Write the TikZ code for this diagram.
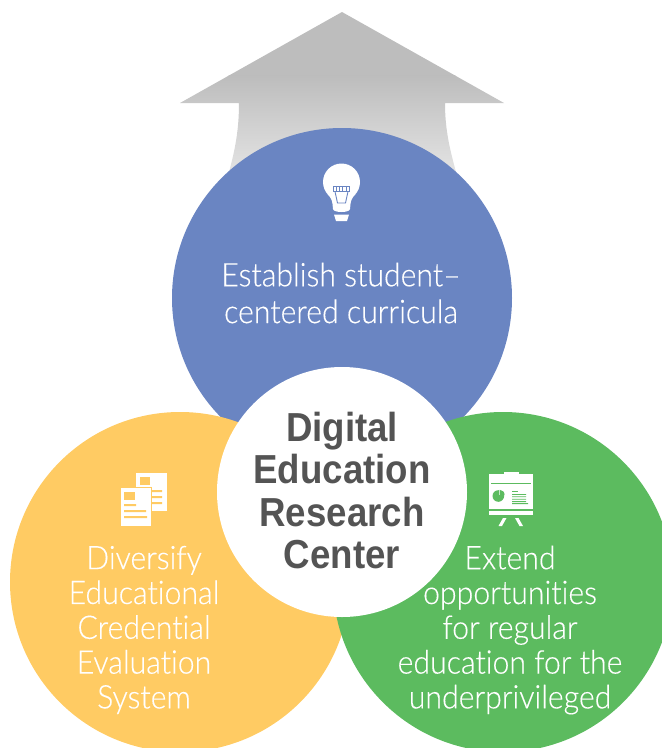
\documentclass[tikz,border=0pt]{standalone}
\usepackage{fontspec}
\setmainfont[Ligatures=NoCommon,FakeStretch=0.93,FakeBold=0.25]{Lato Light}
\newfontfamily\boldf[FakeStretch=0.905]{Liberation Sans Bold}
\definecolor{bluec}{HTML}{6A85C2}
\definecolor{yellowc}{HTML}{FFCB63}
\definecolor{greenc}{HTML}{5CBB5F}
\definecolor{darkt}{HTML}{545454}
\tikzset{
  disc/.style={circle,inner sep=0pt,minimum size=340pt},
  lab/.style={text=white,align=center,font=\fontsize{32.5}{34.8}\selectfont,inner sep=0pt},
  ic/.style={fill=white,draw=none}
}
\begin{document}
\begin{tikzpicture}[x=1pt,y=-1pt]
\useasboundingbox (0,0) rectangle (662,748);
\clip (0,0) rectangle (662,748);
\begin{scope}
\clip (342,12) -- (504,103) -- (445,103) .. controls (445,130) and (450,150) .. (456,172)
  -- (229,172) .. controls (235,150) and (239,130) .. (239,103) -- (180,103) -- cycle;
\fill[black!26] (170,0) rectangle (510,76);
\shade[top color=black!26,bottom color=black!11] (170,75.5) rectangle (510,172);
\end{scope}
\node[disc,fill=bluec] (top) at (342,298) {};
\node[disc,fill=yellowc] (left) at (180,582) {};
\node[disc,fill=greenc] (right) at (503,582) {};
\node[circle,fill=white,inner sep=0pt,minimum size=250pt] (hub) at (342,492) {};
\node[align=center,inner sep=0pt,text=darkt,font=\boldf\fontsize{40.5}{42.2}\selectfont] (hubtext) at (342,490.5) {Digital\\Education\\Research\\Center};
\node[lab] (t1) at (341,293) {Establish student–\\[2pt]centered curricula};
\node[lab] (t2) at (144,630) {Diversify\\Educational\\Credential\\Evaluation\\System};
\node[lab] (t3) at (510,630) {Extend\\opportunities\\for regular\\education for the\\underprivileged};
% bulb
\fill[white] (341.5,182) circle (18.5);
\fill[white] (327.5,194) .. controls (331,198) and (332,200) .. (332.5,204) -- (333,209)
  .. controls (333.5,213) and (349.5,213) .. (350,209) -- (350.5,204)
  .. controls (351,200) and (352,198) .. (355.5,194) -- cycle;
\fill[white] (334,214.5) -- (349,214.5) -- (347,221) -- (336,221) -- cycle;
\draw[bluec,line width=0.9pt] (333.8,186) rectangle (349,191.5);
\draw[bluec,line width=0.9pt] (336.8,186)--(336.8,191.5) (339.8,186)--(339.8,191.5) (342.9,186)--(342.9,191.5) (346,186)--(346,191.5);
\draw[bluec,line width=0.9pt] (335,191.5) -- (337.5,203) -- (345.5,203) -- (348,191.5);
% documents
\fill[ic] (136,473) rectangle (167,511);
\fill[yellowc] (140,477) rectangle (150,485);
\fill[yellowc] (152,490) rectangle (162,492) (152,496) rectangle (162,498) (152,502) rectangle (162,504);
\fill[ic,draw=yellowc,line width=0.5pt] (120,487) rectangle (151,526);
\fill[yellowc] (124,492) rectangle (135,499.5);
\fill[yellowc] (124,504) rectangle (136,506) (124,510) rectangle (146,512) (124,516) rectangle (147,518);
% presentation
\fill[ic] (504,472) rectangle (519,475);
\fill[ic] (489,474) rectangle (533,509);
\fill[greenc] (491,482.5) rectangle (531,483.5);
\fill[greenc] (498.3,496) circle (5.8);
\fill[ic] (499,489.6) rectangle (505,495.4);
\fill[greenc] (499.6,489.8) -- (499.6,495.2) -- (504.6,495.2) .. controls (504.6,492) and (502.5,489.8) .. (499.6,489.8) -- cycle;
\fill[greenc] (512,491.2) rectangle (518,492);
\fill[greenc] (512,494) rectangle (526,494.8) (512,496.4) rectangle (526,497.2) (512,498.8) rectangle (526,499.6) (512,501.2) rectangle (526,502) (512,503.2) rectangle (528,504);
\fill[ic] (489,511) rectangle (533,515);
\fill[ic] (503,518) -- (506.5,518) -- (502,526) -- (498.5,526) -- cycle;
\fill[ic] (515,518) -- (518.5,518) -- (523,526) -- (519.5,526) -- cycle;
\end{tikzpicture}
\end{document}
